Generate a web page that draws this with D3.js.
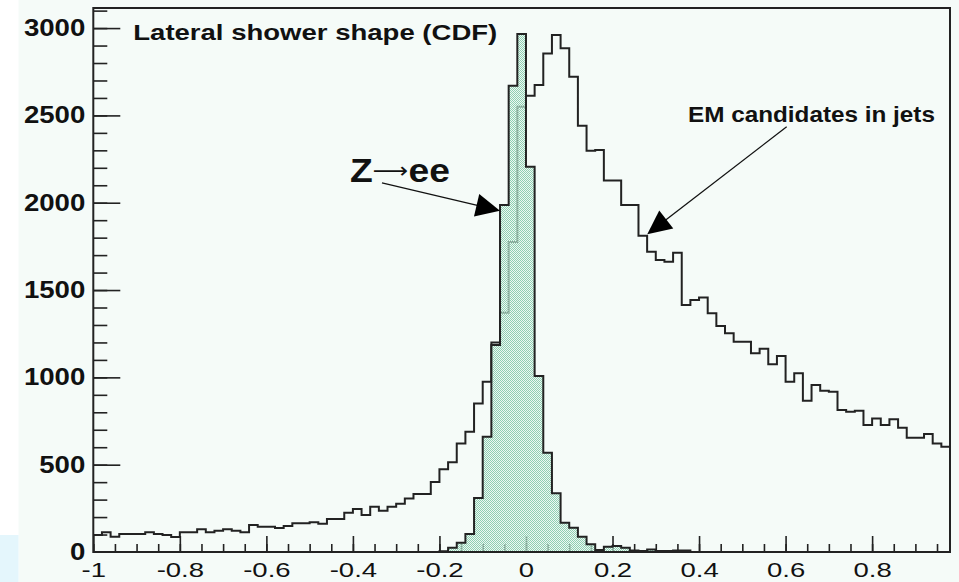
<!DOCTYPE html>
<html><head><meta charset="utf-8">
<script src="https://cdn.jsdelivr.net/npm/d3@7"></script>
<style>body{margin:0;background:#f5fbf8}svg{display:block}</style>
</head><body>
<svg id="c" width="959" height="582"></svg>
<script>
// ---- data ----
const binStart = -1, binWidth = 0.02;
const jetsCounts = [97,113,88,103,103,103,113,103,97,86,
 113,113,130,113,122,130,122,113,155,145,
 145,137,149,164,164,170,162,189,189,225,
 246,212,259,236,259,277,307,332,332,401,
 474,514,622,689,851,975,1200,1370,1775,2549,
 2612,2674,2855,2960,2884,2721,2441,2297,2302,2127,
 2127,1987,1987,1811,1719,1672,1662,1714,1414,1443,
 1458,1367,1294,1252,1204,1204,1138,1164,1075,1122,
 975,1023,866,956,923,918,813,803,809,727,
 765,727,760,712,654,654,676,622,603];
const zeeCounts = [0,0,0,0,0,0,0,0,0,0,
 0,0,0,0,0,0,0,0,0,0,
 0,0,0,0,0,0,0,0,0,0,
 0,0,0,0,0,0,0,0,0,0,
 5,25,53,103,309,660,1185,1987,2670,2966,
 2206,1008,569,336,168,139,88,44,11,30,
 34,25,8,6,14,6,6,8,8,0,
 0,0,0,0,0,0,0,0,0,0,
 0,0,0,0,0,0,0,0,0,0,
 0,0,0,0,0,0,0,0,0];
const xMajorTicks = [-1,-0.8,-0.6,-0.4,-0.2,0,0.2,0.4,0.6,0.8];
const xTickLabels = ["-1","-0.8","-0.6","-0.4","-0.2","0","0.2","0.4","0.6","0.8"];
const yMajorTicks = [0,500,1000,1500,2000,2500,3000];
const yTickLabels = ["0","500","1000","1500","2000","2500","3000"];
const titleText = "Lateral shower shape (CDF)";
const jetsLabel = "EM candidates in jets";

// ---- layout ----
const svg = d3.select("#c");
const FONT = "'Liberation Sans', Arial, Helvetica, sans-serif";
const x = d3.scaleLinear().domain([-1, 0.98]).range([93.3, 950]);
const y = d3.scaleLinear().domain([0, 3115]).range([552, 8]);
const ink = "#222";

// background
svg.append("rect").attr("width",959).attr("height",582).attr("fill","#f5fbf8");
svg.append("rect").attr("x",0).attr("y",0).attr("width",18.5).attr("height",582).attr("fill","#ffffff");
svg.append("rect").attr("x",0).attr("y",535).attr("width",18.5).attr("height",47).attr("fill","#e4f6fc");

// fill pattern
const defs = svg.append("defs");
const pat = defs.append("pattern").attr("id","dots").attr("patternUnits","userSpaceOnUse")
  .attr("width",2).attr("height",2);
pat.append("rect").attr("x",0).attr("y",0).attr("width",1).attr("height",1).attr("fill","#8fcfb2");
pat.append("rect").attr("x",1).attr("y",1).attr("width",1).attr("height",1).attr("fill","#8fcfb2");
pat.append("rect").attr("x",1).attr("y",0).attr("width",1).attr("height",1).attr("fill","#e6f5ee").attr("fill-opacity",0.55);
pat.append("rect").attr("x",0).attr("y",1).attr("width",1).attr("height",1).attr("fill","#e6f5ee").attr("fill-opacity",0.55);

// ticks
const xMinor = d3.range(0, 40).map(k => -1 + k * 0.05);
const yMinor = d3.range(1, 32).map(k => k * 100);
function styleTicks(g){ g.select(".domain").remove(); g.selectAll("line").attr("stroke",ink).attr("stroke-width",1.6); }
svg.append("g").attr("transform","translate(0,552)")
  .call(d3.axisBottom(x).tickValues(xMinor).tickSize(-8).tickFormat("")).call(styleTicks);
svg.append("g").attr("transform","translate(93.3,0)")
  .call(d3.axisLeft(y).tickValues(yMinor).tickSize(-14).tickFormat("")).call(styleTicks);

const xAxisG = svg.append("g").attr("transform","translate(0,552)")
  .call(d3.axisBottom(x).tickValues(xMajorTicks).tickSize(-16).tickPadding(10)
    .tickFormat((d,i) => xTickLabels[i])).call(styleTicks);
xAxisG.selectAll("text").attr("font-family",FONT).attr("font-size",21).attr("fill","#111")
  .attr("transform","scale(1.31,1)");
const yAxisG = svg.append("g").attr("transform","translate(93.3,0)")
  .call(d3.axisLeft(y).tickValues(yMajorTicks).tickSize(-27).tickPadding(6.7)
    .tickFormat((d,i) => yTickLabels[i])).call(styleTicks);
yAxisG.selectAll("text").attr("font-family",FONT).attr("font-size",23).attr("font-weight","bold")
  .attr("fill","#111").attr("transform","scale(1.2,1)");
yAxisG.selectAll(".tick").filter(d => d === 0).select("line").remove();

// histograms
function stepPoints(counts){
  const pts = [];
  counts.forEach((v,i) => { const x0 = binStart + i*binWidth; pts.push([x0,v],[x0+binWidth,v]); });
  return pts;
}
const line = d3.line().x(d => x(d[0])).y(d => y(d[1]));
svg.append("path").attr("d", line(stepPoints(jetsCounts)))
  .attr("fill","none").attr("stroke",ink).attr("stroke-width",2);

const zPts = stepPoints(zeeCounts);
const area = d3.area().x(d => x(d[0])).y0(y(0)).y1(d => y(d[1]));
svg.append("path").attr("d", area(zPts)).attr("fill","url(#dots)");
const zOutline = [[binStart,0], ...zPts, [binStart + zeeCounts.length*binWidth, 0]];
svg.append("path").attr("d", line(zOutline))
  .attr("fill","none").attr("stroke",ink).attr("stroke-width",2);

// frame
svg.append("rect").attr("x",x(-1)).attr("y",y(3115)).attr("width",x(0.98)-x(-1)).attr("height",y(0)-y(3115))
  .attr("fill","none").attr("stroke",ink).attr("stroke-width",2);

// texts
svg.append("text").attr("x",x(-0.9076)).attr("y",y(2931)).attr("font-family",FONT)
  .attr("font-size",22).attr("font-weight","bold").attr("fill","#111")
  .attr("textLength",364).attr("lengthAdjust","spacingAndGlyphs").text(titleText);
svg.append("text").attr("x",x(0.3744)).attr("y",y(2460)).attr("font-family",FONT)
  .attr("font-size",21.5).attr("font-weight","bold").attr("fill","#111")
  .attr("textLength",247).attr("lengthAdjust","spacingAndGlyphs").text(jetsLabel);
const zt = svg.append("text").attr("transform",`translate(${x(-0.4067)},${y(2119)}) scale(1.13,1)`)
  .attr("font-family",FONT).attr("font-size",33).attr("fill","#111");
zt.append("tspan").attr("font-weight","bold").text("Z");
zt.append("tspan").attr("font-family","'DejaVu Sans', sans-serif").attr("font-size",22).attr("dy",-4).text("\u27F6");
zt.append("tspan").attr("font-weight","bold").attr("dy",4).text("ee");

// arrows
function arrow(x1v,y1v,x2v,y2v){
  const p1=[x(x1v),y(y1v)], p2=[x(x2v),y(y2v)];
  const dx=p2[0]-p1[0], dy=p2[1]-p1[1], L=Math.hypot(dx,dy), ux=dx/L, uy=dy/L;
  const hl=24, hw=11.5;
  const bx=p2[0]-ux*hl, by=p2[1]-uy*hl;
  svg.append("line").attr("x1",p1[0]).attr("y1",p1[1]).attr("x2",bx+ux*4).attr("y2",by+uy*4)
    .attr("stroke","#111").attr("stroke-width",1.3);
  svg.append("polygon").attr("points",[p2,[bx-uy*hw,by+ux*hw],[bx+uy*hw,by-ux*hw]].map(p=>p.join(",")).join(" "))
    .attr("fill","#000");
}
arrow(-0.3328, 2113, -0.0601, 1954);
arrow(0.6025, 2435, 0.2803, 1820);
</script>
</body></html>
